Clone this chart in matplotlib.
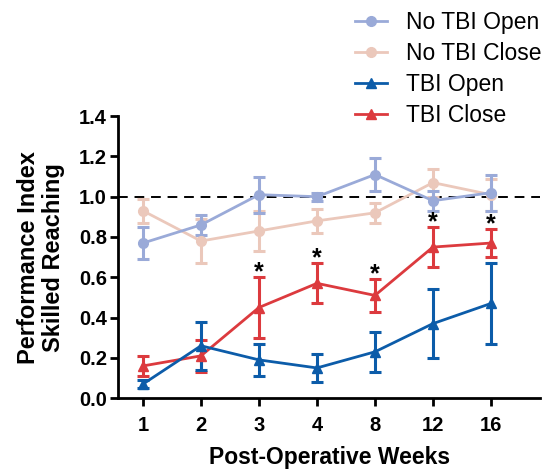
import matplotlib.pyplot as plt

plt.rcParams['font.family'] = ['Liberation Sans', 'DejaVu Sans']

weeks = ['1', '2', '3', '4', '8', '12', '16']

no_tbi_open = [0.77, 0.86, 1.01, 1.00, 1.11, 0.98, 1.02]
no_tbi_open_err = [0.08, 0.05, 0.09, 0.02, 0.08, 0.05, 0.09]

no_tbi_close = [0.93, 0.78, 0.83, 0.88, 0.92, 1.07, 1.01]
no_tbi_close_err = [0.06, 0.11, 0.10, 0.06, 0.05, 0.07, 0.08]

tbi_open = [0.07, 0.26, 0.19, 0.15, 0.23, 0.37, 0.47]
tbi_open_err = [0.02, 0.12, 0.08, 0.07, 0.10, 0.17, 0.20]

tbi_close = [0.16, 0.21, 0.45, 0.57, 0.51, 0.75, 0.77]
tbi_close_err = [0.05, 0.08, 0.15, 0.10, 0.08, 0.10, 0.07]

# weeks where TBI Close differs significantly
signif = [2, 3, 4, 5, 6]

c_nto = '#9AAAD8'
c_ntc = '#EBC8BB'
c_to = '#0C5CA9'
c_tc = '#DC3A3E'

fig = plt.figure(figsize=(5.44, 4.74), dpi=100)
ax = fig.add_axes([0.217, 0.160, 0.776, 0.595])

x = list(range(1, len(weeks) + 1))
kw = dict(lw=2, elinewidth=2.2, capsize=4.5, capthick=2.2, markersize=7)

ax.axhline(1.0, color='black', lw=1.4, ls=(0, (5, 3.5)), zorder=1)

h_ntc = ax.errorbar(x, no_tbi_close, yerr=no_tbi_close_err, color=c_ntc, marker='o', **kw)
h_nto = ax.errorbar(x, no_tbi_open, yerr=no_tbi_open_err, color=c_nto, marker='o', **kw)
h_tc = ax.errorbar(x, tbi_close, yerr=tbi_close_err, color=c_tc, marker='^', **kw)
h_to = ax.errorbar(x, tbi_open, yerr=tbi_open_err, color=c_to, marker='^', **kw)

for i in signif:
    ax.text(x[i], tbi_close[i] + tbi_close_err[i] - 0.035, '*', ha='center', va='bottom',
            fontsize=18, fontweight='bold', zorder=5)

ax.set_xlim(0.57, 7.85)
ax.set_ylim(0, 1.4)
ax.set_xticks(x)
ax.set_xticklabels(weeks)
ax.set_yticks([0.0, 0.2, 0.4, 0.6, 0.8, 1.0, 1.2, 1.4])
ax.set_yticklabels(['0.0', '0.2', '0.4', '0.6', '0.8', '1.0', '1.2', '1.4'])

for s in ['top', 'right']:
    ax.spines[s].set_visible(False)
for s in ['left', 'bottom']:
    ax.spines[s].set_linewidth(2)
ax.tick_params(width=2, length=6, labelsize=14.5)
ax.tick_params(axis='y', pad=2)
ax.tick_params(axis='x', pad=7)
for lab in ax.get_xticklabels() + ax.get_yticklabels():
    lab.set_fontweight('bold')

ax.set_xlabel('Post-Operative Weeks', fontsize=16.5, fontweight='bold', labelpad=8)
ax.set_ylabel('Performance Index\nSkilled Reaching', fontsize=17, fontweight='bold',
              labelpad=10, linespacing=1.1)

fig.legend([h_nto[0], h_ntc[0], h_to[0], h_tc[0]],
           ['No TBI Open', 'No TBI Close', 'TBI Open', 'TBI Close'],
           loc='upper left', bbox_to_anchor=(0.615, 1.02), frameon=False,
           fontsize=16.5, labelspacing=0.35, handlelength=1.4, handletextpad=0.83)

fig.savefig('out.png', dpi=100)
